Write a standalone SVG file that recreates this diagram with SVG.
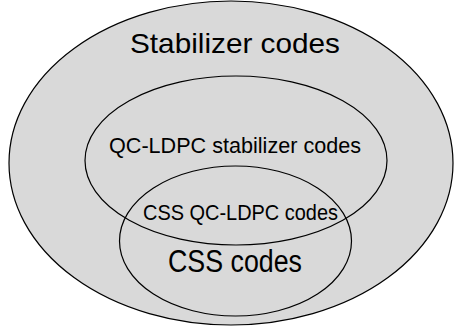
<svg xmlns="http://www.w3.org/2000/svg" width="454" height="330" viewBox="0 0 454 330">
<style>
.set{stroke:#000;stroke-width:1.2}
.lbl{font-family:"Liberation Sans",Arial,sans-serif;fill:#000;text-anchor:middle}
</style>
<rect width="454" height="330" fill="#fff"/>
<g id="stabilizer">
<ellipse class="set" cx="231" cy="163" rx="222" ry="162" fill="#d9d9d9"/>
<text class="lbl" x="235" y="53" font-size="28" textLength="210" lengthAdjust="spacingAndGlyphs">Stabilizer codes</text>
</g>
<g id="qcldpc">
<ellipse class="set" cx="236" cy="160.5" rx="151" ry="84.5" fill="none"/>
<text class="lbl" x="235" y="153" font-size="22" textLength="252" lengthAdjust="spacingAndGlyphs">QC-LDPC stabilizer codes</text>
</g>
<g id="css">
<ellipse class="set" cx="235.5" cy="241" rx="116" ry="75" fill="none"/>
<text class="lbl" x="240.5" y="220" font-size="22" textLength="195" lengthAdjust="spacingAndGlyphs">CSS QC-LDPC codes</text>
<text class="lbl" x="235" y="272" font-size="31" textLength="134" lengthAdjust="spacingAndGlyphs">CSS codes</text>
</g>
<g id="connectors"/>
</svg>
